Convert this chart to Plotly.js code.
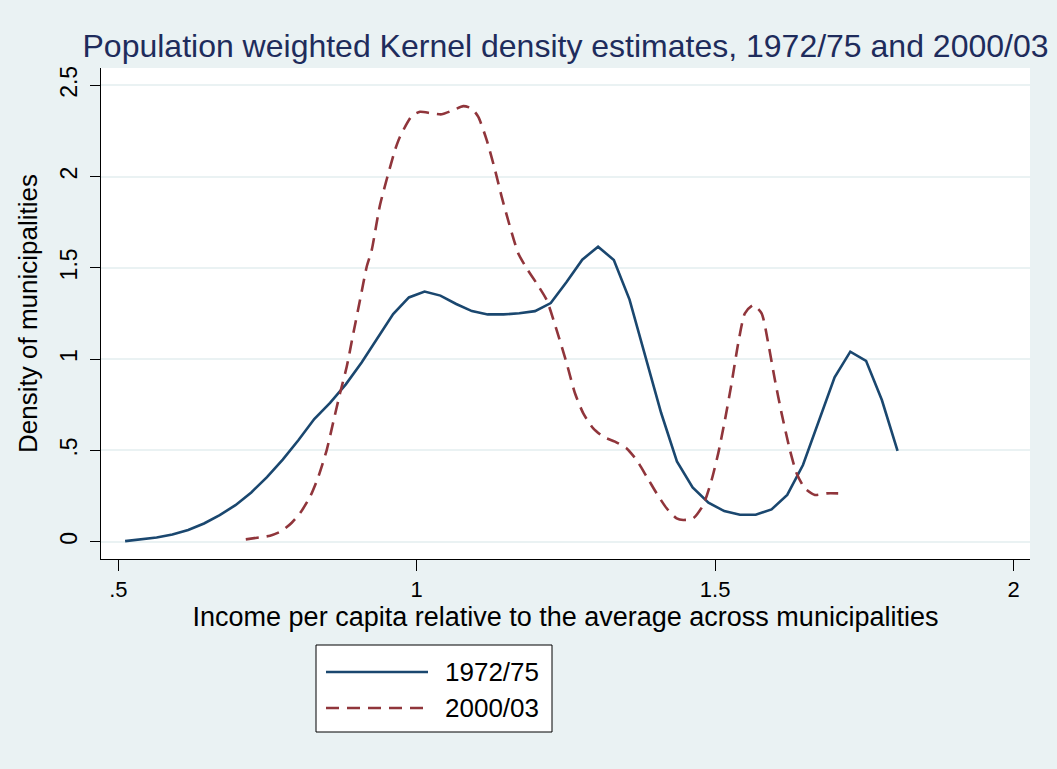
<!DOCTYPE html>
<html>
<head>
<meta charset="utf-8">
<script src="https://cdn.plot.ly/plotly-3.0.1.min.js"></script>
<style>
  html, body { margin: 0; padding: 0; background: #EAF2F3; }
  #chart { width: 1057px; height: 769px; }
</style>
</head>
<body>
<div id="chart"></div>
<script>
// 1972/75 kernel density (50 evaluation points)
const x1972 = [0.5114,0.5379,0.5642,0.5906,0.6171,0.6436,0.6699,0.6963,0.7228,0.7491,
  0.7755,0.8020,0.8283,0.8548,0.8812,0.9077,0.9340,0.9605,0.9869,1.0132,
  1.0397,1.0662,1.0925,1.1189,1.1454,1.1719,1.1982,1.2246,1.2511,1.2774,
  1.3039,1.3303,1.3566,1.3831,1.4096,1.4360,1.4623,1.4888,1.5153,1.5416,
  1.5680,1.5945,1.6208,1.6472,1.6737,1.7002,1.7265,1.7529,1.7794,1.8057];
const y1972 = [0.003,0.012,0.023,0.039,0.064,0.100,0.146,0.200,0.270,0.354,
  0.450,0.557,0.672,0.760,0.862,0.982,1.114,1.247,1.338,1.370,
  1.348,1.302,1.263,1.245,1.245,1.251,1.263,1.307,1.422,1.545,
  1.616,1.543,1.326,1.017,0.705,0.440,0.298,0.214,0.168,0.148,
  0.148,0.177,0.256,0.420,0.666,0.900,1.041,0.991,0.776,0.498];

// 2000/03 kernel density
const x2000 = [0.7136,0.7375,0.7543,0.7739,0.7906,0.8045,0.8213,0.8352,0.8492,0.8603,
  0.8715,0.8827,0.8938,0.9050,0.9162,0.9246,0.9385,0.9636,0.9720,0.9916,
  1.0055,1.0251,1.0419,1.0613,1.0781,1.0921,1.1032,1.1173,1.1312,1.1424,
  1.1563,1.1702,1.1843,1.2010,1.2178,1.2345,1.2513,1.2652,1.2791,1.2958,
  1.3126,1.3322,1.3518,1.3685,1.3853,1.3903,1.4020,1.4188,1.4355,1.4466,
  1.4633,1.4801,1.4941,1.5052,1.5164,1.5276,1.5387,1.5499,1.5638,1.5779,
  1.5890,1.6002,1.6114,1.6253,1.6365,1.6504,1.6672,1.6868,1.7062];
const y2000 = [0.013,0.024,0.033,0.059,0.104,0.156,0.246,0.356,0.502,0.657,
  0.813,0.958,1.141,1.324,1.506,1.597,1.844,2.145,2.218,2.331,
  2.355,2.346,2.341,2.364,2.386,2.373,2.327,2.200,2.036,1.889,
  1.725,1.579,1.497,1.415,1.324,1.159,0.977,0.813,0.703,0.621,
  0.575,0.548,0.511,0.447,0.356,0.329,0.265,0.183,0.128,0.119,
  0.128,0.201,0.338,0.484,0.666,0.868,1.087,1.251,1.296,1.251,
  1.087,0.886,0.703,0.502,0.375,0.292,0.256,0.265,0.265];

const seriesNames = ["1972/75", "2000/03"];
const seriesColors = ["#1A476F", "#90353B"];
const xTickVals = [0.5, 1, 1.5, 2];
const xTickText = [".5", "1", "1.5", "2"];
const yTickVals = [0, 0.5, 1, 1.5, 2, 2.5];
const yTickText = ["0", ".5", "1", "1.5", "2", "2.5"];

const FONT = "Liberation Sans, Arial, Helvetica, sans-serif";
const DASH = "13px,8px";
const W = 1057, H = 769;
const M = { l: 101, r: 27, t: 68, b: 210 };
const PW = W - M.l - M.r, PH = H - M.t - M.b;
// pixel -> paper fraction helpers (for the legend box placed below the plot)
const px = v => (v - M.l) / PW;
const py = v => (H - M.b - v) / PH;

const traces = [
  {
    x: x1972, y: y1972, name: seriesNames[0], type: "scatter", mode: "lines",
    line: { color: seriesColors[0], width: 2.6 }
  },
  {
    x: x2000, y: y2000, name: seriesNames[1], type: "scatter", mode: "lines",
    line: { color: seriesColors[1], width: 2.6, dash: DASH, shape: "spline", smoothing: 0.6 }
  }
];

// Legend (Stata-style box below the plot)
const legendRows = [672, 708];
const shapes = [
  { type: "rect", xref: "paper", yref: "paper",
    x0: px(316), x1: px(552), y0: py(732), y1: py(645),
    fillcolor: "#FFFFFF", line: { color: "#000", width: 1 }, layer: "above" }
];
const annotations = [];
seriesNames.forEach((nm, i) => {
  shapes.push({ type: "line", xref: "paper", yref: "paper",
    x0: px(326), x1: px(428), y0: py(legendRows[i]), y1: py(legendRows[i]),
    line: { color: seriesColors[i], width: 2.6, dash: i === 1 ? DASH : "solid" }, layer: "above" });
  annotations.push({ xref: "paper", yref: "paper", x: px(443), y: py(legendRows[i]),
    xanchor: "left", yanchor: "middle", showarrow: false, text: nm,
    font: { family: FONT, size: 26, color: "#000" } });
});

const layout = {
  width: W, height: H,
  paper_bgcolor: "#EAF2F3",
  plot_bgcolor: "#FFFFFF",
  margin: M,
  font: { family: FONT, color: "#000000" },
  title: {
    text: "Population weighted Kernel density estimates, 1972/75 and 2000/03",
    font: { family: FONT, size: 32, color: "#1E2C5C" },
    xref: "paper", x: 0.5, xanchor: "center",
    yref: "container", y: 1 - 46/769, yanchor: "middle"
  },
  xaxis: {
    range: [0.471, 2.0276],
    tickvals: xTickVals, ticktext: xTickText,
    ticks: "outside", ticklen: 11, tickwidth: 1, tickcolor: "#000",
    showline: true, linecolor: "#000", linewidth: 1,
    showgrid: false, zeroline: false,
    tickfont: { family: FONT, size: 22, color: "#000" },
    title: { text: "Income per capita relative to the average across municipalities",
             font: { family: FONT, size: 27, color: "#000" }, standoff: 3 }
  },
  yaxis: {
    range: [-0.0947, 2.5947],
    tickvals: yTickVals, ticktext: yTickText, tickangle: -90,
    ticks: "outside", ticklen: 10, tickwidth: 1, tickcolor: "#000",
    ticklabelstandoff: 4,
    showline: true, linecolor: "#000", linewidth: 1,
    showgrid: true, gridcolor: "#EAF2F3", gridwidth: 2,
    zeroline: false,
    tickfont: { family: FONT, size: 23, color: "#000" },
    title: { text: "Density of municipalities",
             font: { family: FONT, size: 26, color: "#000" }, standoff: 10 }
  },
  showlegend: false,
  shapes: shapes,
  annotations: annotations
};

Plotly.newPlot("chart", traces, layout, { displayModeBar: false, staticPlot: true });
</script>
</body>
</html>
